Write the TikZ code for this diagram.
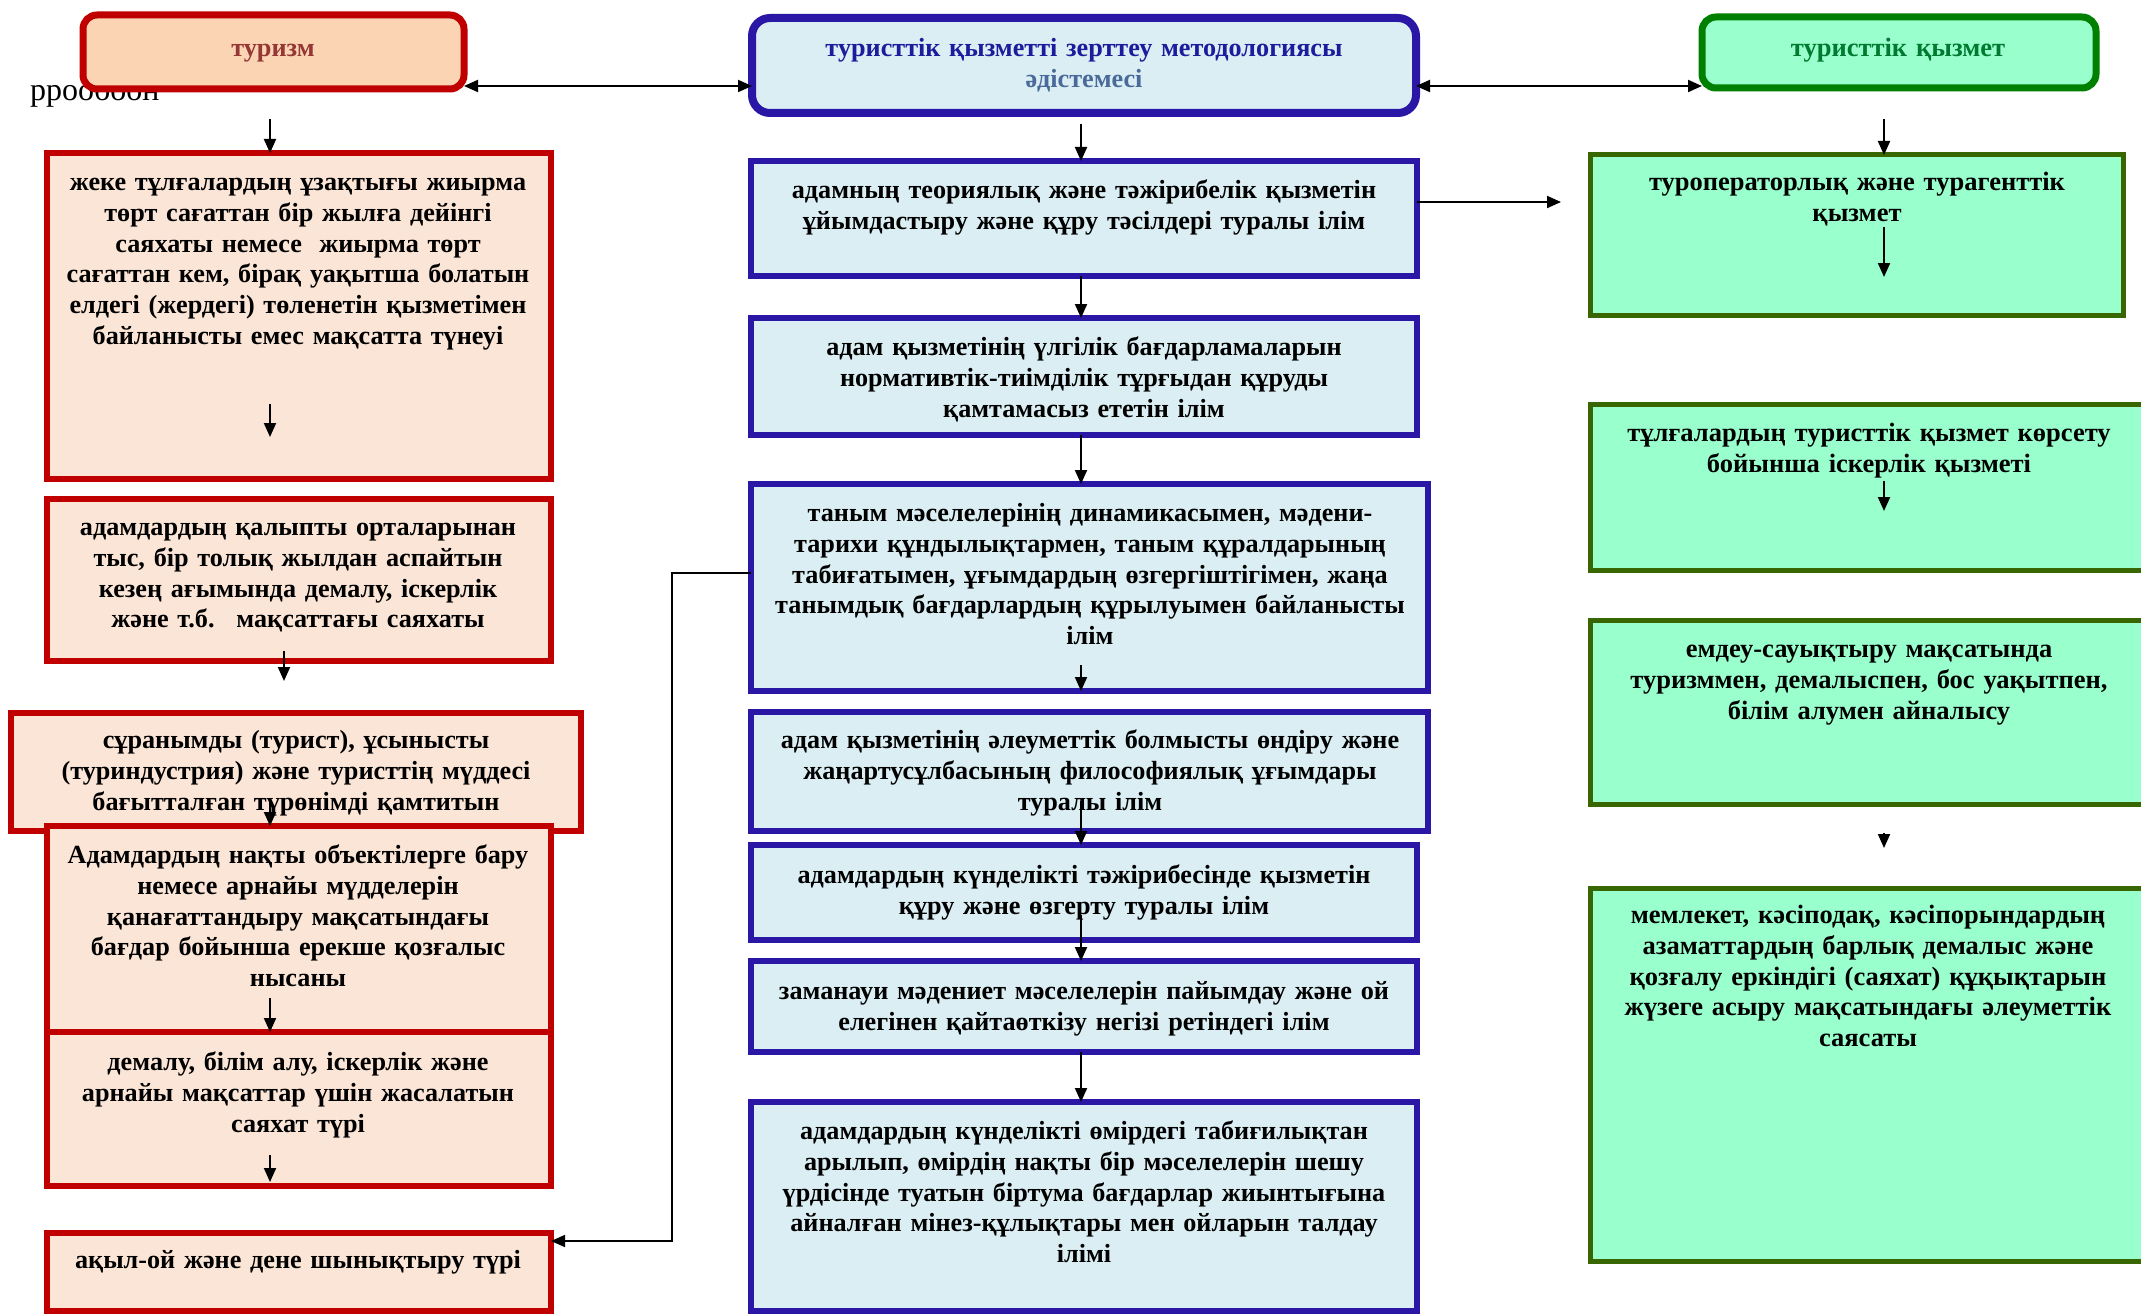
\documentclass[tikz,border=0pt]{standalone}
\usepackage{fontspec}
\setmainfont{Liberation Serif}
\usetikzlibrary{arrows.meta,calc}
\definecolor{rb}{HTML}{C00000}
\definecolor{rtfill}{HTML}{FBD4B4}
\definecolor{rfill}{HTML}{FBE5D6}
\definecolor{rtext}{HTML}{953735}
\definecolor{bb}{HTML}{2A17A6}
\definecolor{bfill}{HTML}{DAEEF3}
\definecolor{btext}{HTML}{1C1C9C}
\definecolor{btextb}{HTML}{4A6A9A}
\definecolor{gt}{HTML}{008000}
\definecolor{gb}{HTML}{386600}
\definecolor{gfill}{HTML}{99FFCC}
\definecolor{gtext}{HTML}{007A30}
\tikzset{
  tip/.tip={Triangle[length=14pt,width=12pt]},
  arr/.style={line width=2pt,-tip},
  darr/.style={line width=2pt,tip-tip},
  elb/.style={line width=1.6pt,-tip},
  boxbase/.style={rectangle,inner sep=0pt,outer sep=0pt,anchor=north west},
  redtitle/.style={boxbase,draw=rb,fill=rtfill,line width=7pt,rounded corners=14pt},
  redbox/.style={boxbase,draw=rb,fill=rfill,line width=5.5pt},
  bluetitle/.style={boxbase,draw=bb,fill=bfill,line width=8pt,rounded corners=18pt},
  bluebox/.style={boxbase,draw=bb,fill=bfill,line width=6pt},
  greentitle/.style={boxbase,draw=gt,fill=gfill,line width=7pt,rounded corners=14pt},
  greenbox/.style={boxbase,draw=gb,fill=gfill,line width=5pt},
  txt/.style={anchor=north,align=center,inner sep=0pt,text width=640pt,
    font=\fontsize{26.2}{30.7}\selectfont\bfseries},
  rtxt/.style={txt,font=\fontsize{26.5}{30.7}\selectfont\bfseries},
}
\begin{document}
\begin{tikzpicture}[x=1pt,y=-1pt]
\useasboundingbox[fill=white] (0,0) rectangle (2141,1316);

% stray text behind the title box
\node[anchor=base west,inner sep=0pt,font=\fontsize{32}{36}\selectfont] (stray) at (30,101) {ррообоон};

% ---------- left column ----------
\node[redtitle,minimum width=381pt,minimum height=74pt] (t) at (83,15) {};
\node[txt,text=rtext] (tt) at (273,35) {\strut туризм};

\node[redbox,minimum width=504pt,minimum height=326pt] (b1) at (47,153) {};
\node[txt] (b1t) at (298,169) {\strut жеке тұлғалардың ұзақтығы жиырма\\
төрт сағаттан бір жылға дейінгі\\
саяхаты немесе \ жиырма төрт\\
сағаттан кем, бірақ уақытша болатын\\
елдегі (жердегі) төленетін қызметімен\\
байланысты емес мақсатта түнеуі};

\node[redbox,minimum width=504pt,minimum height=162pt] (b2) at (47,499) {};
\node[txt] (b2t) at (298,514) {\strut адамдардың қалыпты орталарынан\\
тыс, бір толық жылдан аспайтын\\
кезең ағымында демалу, іскерлік\\
және т.б. \ мақсаттағы саяхаты};

\node[redbox,minimum width=570pt,minimum height=118pt] (b3) at (11,713) {};
\node[txt] (b3t) at (296,727) {\strut сұранымды (турист), ұсынысты\\
(туриндустрия) және туристтің мүддесі\\
бағытталған түрөнімді қамтитын};

\node[redbox,minimum width=504pt,minimum height=206pt] (b4) at (47,826) {};
\node[txt] (b4t) at (298,842) {\strut Адамдардың нақты объектілерге бару\\
немесе арнайы мүдделерін\\
қанағаттандыру мақсатындағы\\
бағдар бойынша ерекше қозғалыс\\
нысаны};

\node[redbox,minimum width=504pt,minimum height=154pt] (b5) at (47,1032) {};
\node[txt] (b5t) at (298,1049) {\strut демалу, білім алу, іскерлік және\\
арнайы мақсаттар үшін жасалатын\\
саяхат түрі};

\node[redbox,minimum width=504pt,minimum height=78pt] (b6) at (47,1233) {};
\node[txt] (b6t) at (298,1247) {\strut ақыл-ой және дене шынықтыру түрі};

% ---------- middle column ----------
\node[bluetitle,minimum width=664pt,minimum height=95pt] (ct) at (752,18) {};
\node[txt,text=btext] (ctt) at (1084,35) {\strut туристтік қызметті зерттеу методологиясы\\
\textcolor{btextb}{әдістемесі}};

\node[bluebox,minimum width=666pt,minimum height=115pt] (c1) at (751,161) {};
\node[txt] (c1t) at (1084,177) {\strut адамның теориялық және тәжірибелік қызметін\\
ұйымдастыру және құру тәсілдері туралы ілім};

\node[bluebox,minimum width=666pt,minimum height=117pt] (c2) at (751,318) {};
\node[txt] (c2t) at (1084,334) {\strut адам қызметінің үлгілік бағдарламаларын\\
нормативтік-тиімділік тұрғыдан құруды\\
қамтамасыз ететін ілім};

\node[bluebox,minimum width=677pt,minimum height=207pt] (c3) at (751,484) {};
\node[txt] (c3t) at (1090,500) {\strut таным мәселелерінің динамикасымен, мәдени-\\
тарихи құндылықтармен, таным құралдарының\\
табиғатымен, ұғымдардың өзгергіштігімен, жаңа\\
танымдық бағдарлардың құрылуымен байланысты\\
ілім};

\node[bluebox,minimum width=677pt,minimum height=119pt] (c4) at (751,712) {};
\node[txt] (c4t) at (1090,727) {\strut адам қызметінің әлеуметтік болмысты өндіру және\\
жаңартусұлбасының философиялық ұғымдары\\
туралы ілім};

\node[bluebox,minimum width=666pt,minimum height=95pt] (c5) at (751,845) {};
\node[txt] (c5t) at (1084,862) {\strut адамдардың күнделікті тәжірибесінде қызметін\\
құру және өзгерту туралы ілім};

\node[bluebox,minimum width=666pt,minimum height=91pt] (c6) at (751,961) {};
\node[txt] (c6t) at (1084,978) {\strut заманауи мәдениет мәселелерін пайымдау және ой\\
елегінен қайтаөткізу негізі ретіндегі ілім};

\node[bluebox,minimum width=666pt,minimum height=209pt] (c7) at (751,1102) {};
\node[txt] (c7t) at (1084,1118) {\strut адамдардың күнделікті өмірдегі табиғилықтан\\
арылып, өмірдің нақты бір мәселелерін шешу\\
үрдісінде туатын біртума бағдарлар жиынтығына\\
айналған мінез-құлықтары мен ойларын талдау\\
ілімі};

% ---------- right column ----------
\node[greentitle,minimum width=394pt,minimum height=71pt] (rt) at (1702,17) {};
\node[rtxt,text=gtext] (rtt) at (1898,35) {\strut туристтік қызмет};

\node[greenbox,minimum width=533pt,minimum height=160pt] (r1) at (1590,155) {};
\node[rtxt] (r1t) at (1857,169) {\strut туроператорлық және турагенттік\\
қызмет};

\node[greenbox,minimum width=560pt,minimum height=166pt] (r2) at (1590,404) {};
\node[rtxt] (r2t) at (1869,420) {\strut тұлғалардың туристтік қызмет көрсету\\
бойынша іскерлік қызметі};

\node[greenbox,minimum width=560pt,minimum height=184pt] (r3) at (1590,620) {};
\node[rtxt] (r3t) at (1869,636) {\strut емдеу-сауықтыру мақсатында\\
туризммен, демалыспен, бос уақытпен,\\
білім алумен айналысу};

\node[greenbox,minimum width=560pt,minimum height=373pt] (r4) at (1590,888) {};
\node[rtxt] (r4t) at (1868,902) {\strut мемлекет, кәсіподақ, кәсіпорындардың\\
азаматтардың барлық демалыс және\\
қозғалу еркіндігі (саяхат) құқықтарын\\
жүзеге асыру мақсатындағы әлеуметтік\\
саясаты};

% ---------- connectors ----------
\coordinate (ty) at (0,86);
\draw[darr] (t.east |- ty) -- (ct.west |- ty);
\draw[darr] (ct.east |- ty) -- (rt.west |- ty);

\coordinate (aC) at (270,119);
\draw[arr] (aC) -- (aC |- b1.north);
\coordinate (aD1) at (270,404); \coordinate (aD2) at (270,437);
\draw[arr] (aD1) -- (aD2);
\coordinate (aE1) at (284,651); \coordinate (aE2) at (284,681);
\draw[arr] (aE1) -- (aE2);
\coordinate (aF1) at (270,799);
\draw[arr] (aF1) -- (aF1 |- b4.north);
\coordinate (aG1) at (270,998); \coordinate (aG2) at (270,1032);
\draw[arr] (aG1) -- (aG2);
\coordinate (aH1) at (270,1155); \coordinate (aH2) at (270,1182);
\draw[arr] (aH1) -- (aH2);

\coordinate (el1) at (672,573);
\coordinate (el2) at (672,1241);
\draw[elb] (c3.west |- el1) -- (el1) -- (el2) -- (b6.east |- el2);

\coordinate (aJ) at (1081,124);
\draw[arr] (aJ) -- (aJ |- c1.north);
\draw[arr] (c1.south -| aJ) -- (c2.north -| aJ);
\draw[arr] (c2.south -| aJ) -- (c3.north -| aJ);
\coordinate (aM1) at (1081,665); \coordinate (aM2) at (1081,691);
\draw[arr] (aM1) -- (aM2);
\coordinate (aN1) at (1081,801);
\draw[arr] (aN1) -- (aN1 |- c5.north);
\coordinate (aO1) at (1081,915);
\draw[arr] (aO1) -- (aO1 |- c6.north);
\draw[arr] (c6.south -| aJ) -- (c7.north -| aJ);

\coordinate (aQ1) at (1417,202); \coordinate (aQ2) at (1561,202);
\draw[arr] (c1.east |- aQ1) -- (aQ2);

\coordinate (aR) at (1884,119);
\draw[arr] (aR) -- (aR |- r1.north);
\coordinate (aS1) at (1884,227); \coordinate (aS2) at (1884,277);
\draw[arr] (aS1) -- (aS2);
\coordinate (aT1) at (1884,481); \coordinate (aT2) at (1884,511);
\draw[arr] (aT1) -- (aT2);
\coordinate (aU1) at (1884,833); \coordinate (aU2) at (1884,848);
\draw[arr] (aU1) -- (aU2);
\end{tikzpicture}
\end{document}
